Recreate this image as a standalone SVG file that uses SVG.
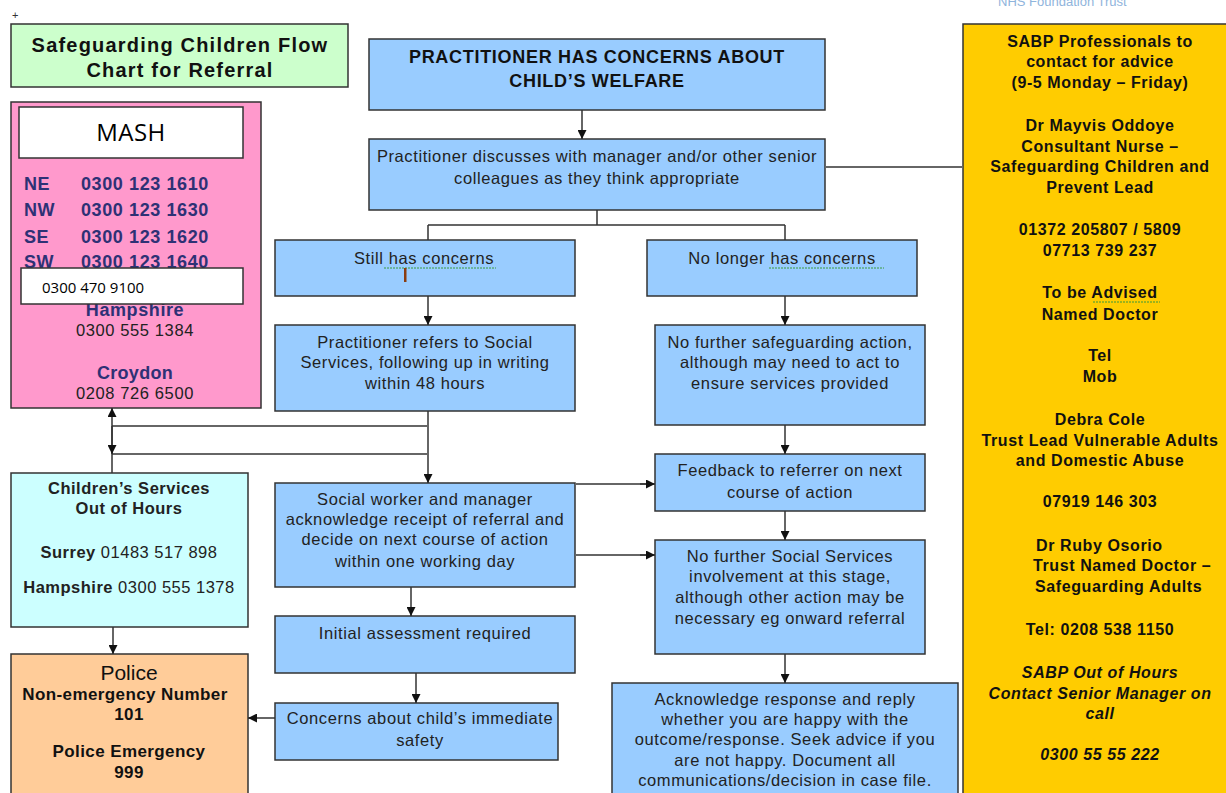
<svg xmlns="http://www.w3.org/2000/svg" width="1226" height="793" viewBox="0 0 1226 793">
<defs>
<marker id="ah" markerWidth="9" markerHeight="9" refX="9" refY="4.5" orient="auto" markerUnits="userSpaceOnUse">
<path d="M0,0 L9,4.5 L0,9 Z" fill="#111"/>
</marker>
<style>
text{font-family:"Liberation Sans",Arial,sans-serif;}
.box{stroke:#333;stroke-width:1.5;}
.blue{fill:#99ccff;}
.t{font-size:16.5px;letter-spacing:0.6px;fill:#222;text-anchor:middle;}
.b{font-weight:bold;}
.navy{fill:#2e3175;}
.yl{font-size:16px;letter-spacing:0.6px;font-weight:bold;fill:#111;text-anchor:middle;}
.cs{font-size:16.5px;letter-spacing:0.5px;fill:#222;text-anchor:middle;}
.po{font-size:17px;letter-spacing:0.4px;font-weight:bold;fill:#111;text-anchor:middle;}
.ln{fill:none;stroke:#333;stroke-width:1.5;}
.gl{fill:none;stroke:#666;stroke-width:2;}
.sq{fill:none;stroke:#3a9a3a;stroke-width:1;stroke-dasharray:2,1;}
</style>
</defs>
<rect width="1226" height="793" fill="#fff"/>
<text x="12" y="19" style="font-size:11px;fill:#333">+</text>
<text x="998" y="6" style="font-size:13px;fill:#8fb4dc">NHS Foundation Trust</text>

<g id="title">
<rect class="box" x="11" y="24" width="337" height="63" fill="#ccffcc"/>
<text x="180" y="52" class="b" style="font-size:20px;letter-spacing:1.2px;text-anchor:middle;fill:#111">Safeguarding Children Flow</text>
<text x="180" y="77" class="b" style="font-size:20px;letter-spacing:1.2px;text-anchor:middle;fill:#111">Chart for Referral</text>
</g>

<g id="mash">
<rect class="box" x="11" y="102" width="250" height="306" fill="#ff99cc"/>
<rect class="box" x="19" y="107" width="224" height="51" fill="#fff"/>
<text x="131" y="141" style="font-family:'Open Sans',sans-serif;font-size:24px;letter-spacing:0.5px;text-anchor:middle;fill:#000">MASH</text>
<g class="b navy" style="font-size:18px;letter-spacing:0.6px">
<text x="24" y="190">NE</text><text x="81" y="190">0300 123 1610</text>
<text x="24" y="216">NW</text><text x="81" y="216">0300 123 1630</text>
<text x="24" y="243">SE</text><text x="81" y="243">0300 123 1620</text>
<text x="24" y="268">SW</text><text x="81" y="268">0300 123 1640</text>
<text x="135" y="316" style="text-anchor:middle">Hampshire</text>
</g>
<rect class="box" x="21" y="268" width="222" height="36" fill="#fff"/>
<text x="42" y="293" style="font-family:'Open Sans',sans-serif;font-size:15px;fill:#000">0300 470 9100</text>
<text x="135" y="336" class="t">0300 555 1384</text>
<text x="135" y="379" class="navy b" style="font-size:18px;letter-spacing:0.3px;text-anchor:middle">Croydon</text>
<text x="135" y="399" class="t">0208 726 6500</text>
</g>

<g id="childrens-services">
<rect class="box" x="11" y="473" width="237" height="154" fill="#ccffff"/>
<text x="129" y="494" class="cs b">Children’s Services</text>
<text x="129" y="514" class="cs b">Out of Hours</text>
<text x="129" y="558" class="cs"><tspan font-weight="bold">Surrey</tspan> 01483 517 898</text>
<text x="129" y="593" class="cs"><tspan font-weight="bold">Hampshire</tspan> 0300 555 1378</text>
</g>

<g id="police">
<rect class="box" x="11" y="654" width="237" height="145" fill="#ffcc99"/>
<text x="129" y="680" style="font-size:21px;text-anchor:middle;fill:#111">Police</text>
<text x="125" y="700" class="po">Non-emergency Number</text>
<text x="129" y="720" class="po">101</text>
<text x="129" y="757" class="po">Police Emergency</text>
<text x="129" y="778" class="po">999</text>
</g>

<g id="n-concerns">
<rect class="box blue" x="369" y="39" width="456" height="71"/>
<text x="597" y="63" class="b" style="font-size:18px;letter-spacing:0.7px;text-anchor:middle;fill:#111">PRACTITIONER HAS CONCERNS ABOUT</text>
<text x="597" y="87" class="b" style="font-size:18px;letter-spacing:0.7px;text-anchor:middle;fill:#111">CHILD’S WELFARE</text>
</g>

<g id="n-discusses">
<rect class="box blue" x="369" y="139" width="456" height="71"/>
<text x="597" y="162" class="t">Practitioner discusses with manager and/or other senior</text>
<text x="597" y="184" class="t">colleagues as they think appropriate</text>
</g>

<g id="n-still">
<rect class="box blue" x="275" y="240" width="300" height="56"/>
<text x="424" y="264" class="t">Still has concerns</text>
<path class="sq" d="M384,268 L496,268"/>
<rect x="404" y="268" width="2.5" height="14" fill="#8a3c10"/>
</g>

<g id="n-nolonger">
<rect class="box blue" x="647" y="240" width="270" height="56"/>
<text x="782" y="264" class="t">No longer has concerns</text>
<path class="sq" d="M769,268 L884,268"/>
</g>

<g id="n-refers">
<rect class="box blue" x="275" y="325" width="300" height="86"/>
<text x="425" y="348" class="t">Practitioner refers to Social</text>
<text x="425" y="368" class="t">Services, following up in writing</text>
<text x="425" y="389" class="t">within 48 hours</text>
</g>

<g id="n-nofurther">
<rect class="box blue" x="655" y="325" width="270" height="100"/>
<text x="790" y="348" class="t">No further safeguarding action,</text>
<text x="790" y="368" class="t">although may need to act to</text>
<text x="790" y="389" class="t">ensure services provided</text>
</g>

<g id="n-feedback">
<rect class="box blue" x="655" y="454" width="270" height="57"/>
<text x="790" y="476" class="t">Feedback to referrer on next</text>
<text x="790" y="498" class="t">course of action</text>
</g>

<g id="n-socialworker">
<rect class="box blue" x="275" y="483" width="300" height="104"/>
<text x="425" y="505" class="t">Social worker and manager</text>
<text x="425" y="525" class="t">acknowledge receipt of referral and</text>
<text x="425" y="545" class="t">decide on next course of action</text>
<text x="425" y="567" class="t">within one working day</text>
</g>

<g id="n-nosocial">
<rect class="box blue" x="655" y="540" width="270" height="114"/>
<text x="790" y="562" class="t">No further Social Services</text>
<text x="790" y="582" class="t">involvement at this stage,</text>
<text x="790" y="603" class="t">although other action may be</text>
<text x="790" y="624" class="t">necessary eg onward referral</text>
</g>

<g id="n-initial">
<rect class="box blue" x="275" y="616" width="300" height="57"/>
<text x="425" y="639" class="t">Initial assessment required</text>
</g>

<g id="n-immediate">
<rect class="box blue" x="275" y="703" width="283" height="57"/>
<text x="420" y="724" class="t">Concerns about child’s immediate</text>
<text x="420" y="746" class="t">safety</text>
</g>

<g id="n-acknowledge">
<rect class="box blue" x="612" y="683" width="346" height="120"/>
<text x="785" y="705" class="t">Acknowledge response and reply</text>
<text x="785" y="725" class="t">whether you are happy with the</text>
<text x="785" y="745" class="t">outcome/response. Seek advice if you</text>
<text x="785" y="766" class="t">are not happy. Document all</text>
<text x="785" y="786" class="t">communications/decision in case file.</text>
</g>

<g id="sabp">
<rect class="box" x="963" y="24" width="270" height="780" fill="#ffcc00"/>
<text x="1100" y="47" class="yl navy">SABP Professionals to</text>
<text x="1100" y="67" class="yl navy">contact for advice</text>
<text x="1100" y="88" class="yl navy">(9-5 Monday – Friday)</text>
<text x="1100" y="131" class="yl">Dr Mayvis Oddoye</text>
<text x="1100" y="152" class="yl">Consultant Nurse –</text>
<text x="1100" y="172" class="yl">Safeguarding Children and</text>
<text x="1100" y="193" class="yl">Prevent Lead</text>
<text x="1100" y="235" class="yl">01372 205807  / 5809</text>
<text x="1100" y="256" class="yl">07713 739 237</text>
<text x="1100" y="298" class="yl">To be Advised</text>
<path class="sq" d="M1093,302 L1160,302"/>
<text x="1100" y="320" class="yl">Named Doctor</text>
<text x="1100" y="361" class="yl">Tel</text>
<text x="1100" y="382" class="yl">Mob</text>
<text x="1100" y="425" class="yl">Debra Cole</text>
<text x="1100" y="446" class="yl">Trust Lead Vulnerable Adults</text>
<text x="1100" y="466" class="yl">and Domestic Abuse</text>
<text x="1100" y="507" class="yl">07919 146 303</text>
<text x="1036" y="551" class="yl" style="text-anchor:start">Dr Ruby Osorio</text>
<text x="1033" y="571" class="yl" style="text-anchor:start">Trust Named Doctor –</text>
<text x="1035" y="592" class="yl" style="text-anchor:start">Safeguarding Adults</text>
<text x="1100" y="635" class="yl">Tel: 0208 538 1150</text>
<text x="1100" y="678" class="yl navy" style="font-style:italic">SABP Out of Hours</text>
<text x="1100" y="699" class="yl navy" style="font-style:italic">Contact Senior Manager on</text>
<text x="1100" y="719" class="yl navy" style="font-style:italic">call</text>
<text x="1100" y="760" class="yl navy" style="font-style:italic">0300 55 55 222</text>
</g>

<g id="connectors">
<path class="ln" d="M582,110 V139" marker-end="url(#ah)"/>
<path class="gl" d="M825,167 H963"/>
<path class="ln" d="M597,210 V225 M428,225 H785 M428,225 V240 M785,225 V240"/>
<path class="ln" d="M428,296 V325" marker-end="url(#ah)"/>
<path class="ln" d="M785,296 V325" marker-end="url(#ah)"/>
<path class="ln" d="M428,411 V483" marker-end="url(#ah)"/>
<path class="gl" d="M112,426 H428 M112,454 H428"/>
<path class="ln" d="M112,473 V408" marker-end="url(#ah)"/>
<path class="ln" d="M112,426 V454" marker-end="url(#ah)"/>
<path class="ln" d="M785,425 V454" marker-end="url(#ah)"/>
<path class="ln" d="M785,511 V540" marker-end="url(#ah)"/>
<path class="ln" d="M785,654 V683" marker-end="url(#ah)"/>
<path class="gl" d="M575,484 H646"/>
<path class="ln" d="M640,484 H655" marker-end="url(#ah)"/>
<path class="gl" d="M575,555 H646"/>
<path class="ln" d="M640,555 H655" marker-end="url(#ah)"/>
<path class="ln" d="M411,587 V616" marker-end="url(#ah)"/>
<path class="ln" d="M416,673 V703" marker-end="url(#ah)"/>
<path class="ln" d="M275,718 H248" marker-end="url(#ah)"/>
<path class="ln" d="M113,627 V654" marker-end="url(#ah)"/>
</g>
</svg>
